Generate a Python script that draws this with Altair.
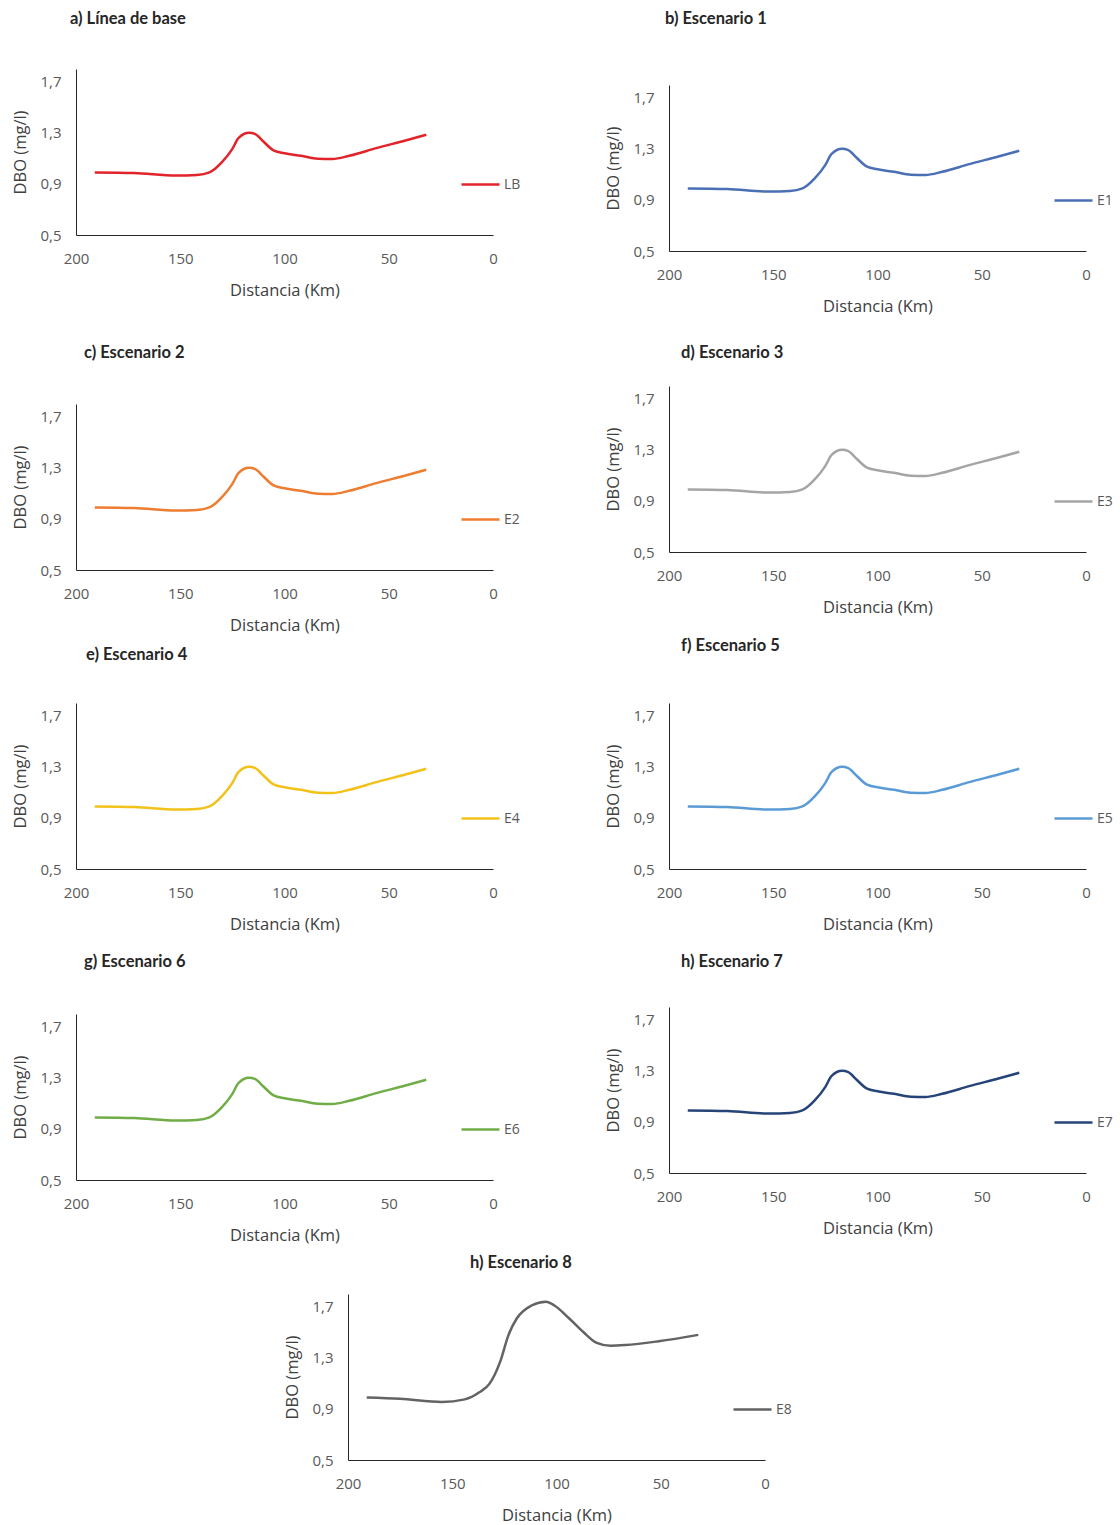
import altair as alt
import pandas as pd

# ---- data ----
X_TICKS = [200, 150, 100, 50, 0]
Y_TICKS = [0.5, 0.9, 1.3, 1.7]

km_base = [191, 172, 152, 142, 136, 130, 125, 122, 117, 114, 110, 105, 100, 92, 84, 77, 69, 56, 42, 32]
dbo_lb = [0.99, 0.985, 0.965, 0.97, 0.99, 1.07, 1.175, 1.26, 1.30, 1.29, 1.23, 1.16, 1.14, 1.12, 1.097, 1.095, 1.12, 1.18, 1.24, 1.285]
dbo_e1 = [0.99, 0.985, 0.965, 0.97, 0.99, 1.07, 1.175, 1.26, 1.30, 1.29, 1.23, 1.16, 1.14, 1.12, 1.097, 1.095, 1.12, 1.18, 1.24, 1.285]
dbo_e2 = [0.99, 0.985, 0.965, 0.97, 0.99, 1.07, 1.175, 1.26, 1.30, 1.29, 1.23, 1.16, 1.14, 1.12, 1.097, 1.095, 1.12, 1.18, 1.24, 1.285]
dbo_e3 = [0.99, 0.985, 0.965, 0.97, 0.99, 1.07, 1.175, 1.26, 1.30, 1.29, 1.23, 1.16, 1.14, 1.12, 1.097, 1.095, 1.12, 1.18, 1.24, 1.285]
dbo_e4 = [0.99, 0.985, 0.965, 0.97, 0.99, 1.07, 1.175, 1.26, 1.30, 1.29, 1.23, 1.16, 1.14, 1.12, 1.097, 1.095, 1.12, 1.18, 1.24, 1.285]
dbo_e5 = [0.99, 0.985, 0.965, 0.97, 0.99, 1.07, 1.175, 1.26, 1.30, 1.29, 1.23, 1.16, 1.14, 1.12, 1.097, 1.095, 1.12, 1.18, 1.24, 1.285]
dbo_e6 = [0.99, 0.985, 0.965, 0.97, 0.99, 1.07, 1.175, 1.26, 1.30, 1.29, 1.23, 1.16, 1.14, 1.12, 1.097, 1.095, 1.12, 1.18, 1.24, 1.285]
dbo_e7 = [0.99, 0.985, 0.965, 0.97, 0.99, 1.07, 1.175, 1.26, 1.30, 1.29, 1.23, 1.16, 1.14, 1.12, 1.097, 1.095, 1.12, 1.18, 1.24, 1.285]

km_e8 = [191, 175, 155, 144, 137, 132, 127, 123, 119, 112, 105, 101, 94, 87, 81, 74, 67, 51, 32]
dbo_e8 = [0.99, 0.98, 0.955, 0.975, 1.03, 1.10, 1.27, 1.48, 1.61, 1.71, 1.74, 1.71, 1.61, 1.50, 1.42, 1.395, 1.40, 1.43, 1.48]

series_names = ["LB", "E1", "E2", "E3", "E4", "E5", "E6", "E7", "E8"]
series_colors = ["#E2242A", "#4A6FB5", "#ED7D31", "#A5A5A5", "#F2C21B", "#5B9BD5", "#70AD47", "#264478", "#636363"]
panel_titles = ["a) Línea de base", "b) Escenario 1", "c) Escenario 2", "d) Escenario 3",
                "e) Escenario 4", "f) Escenario 5", "g) Escenario 6", "h) Escenario 7", "h) Escenario 8"]


def panel(name, color, title, dx, offset, km, vals):
    df = pd.DataFrame({"km": km, "dbo": vals, "serie": name})
    return alt.Chart(df).mark_line(interpolate="monotone", strokeWidth=2.5).encode(
        x=alt.X("km:Q", title="Distancia (Km)",
                scale=alt.Scale(domain=[0, 200], reverse=True, nice=False),
                axis=alt.Axis(values=X_TICKS, ticks=False, grid=False, labelPadding=16,
                              titlePadding=16, labelFlush=False, format="d")),
        y=alt.Y("dbo:Q", title="DBO (mg/l)",
                scale=alt.Scale(domain=[0.5, 1.8], nice=False, zero=False),
                axis=alt.Axis(values=Y_TICKS, ticks=False, grid=False, labelPadding=15,
                              titlePadding=11, labelFlush=False,
                              labelExpr="replace(format(datum.value, '.1f'), '.', ',')")),
        color=alt.Color("serie:N", scale=alt.Scale(domain=[name], range=[color]),
                        legend=alt.Legend(orient="none", legendX=384, legendY=95, title=None,
                                          symbolType="stroke", symbolSize=1444,
                                          symbolStrokeWidth=2.5, labelOffset=3,
                                          labelFontSize=14, labelFont="Open Sans",
                                          labelColor="#595959")),
    ).properties(
        width=417, height=166,
        title=alt.TitleParams(title, anchor="start", frame="group", dx=dx, offset=offset),
    )


def spacer(w, h):
    return alt.Chart(pd.DataFrame({"s": [0]})).mark_point(opacity=0, size=1).encode(
        x=alt.value(0), y=alt.value(0)
    ).properties(width=w, height=h)


vals = [dbo_lb, dbo_e1, dbo_e2, dbo_e3, dbo_e4, dbo_e5, dbo_e6, dbo_e7, dbo_e8]
kms = [km_base] * 8 + [km_e8]
dxs = [-6, -4, 8, 12, 10, 12, 8, 12, 122]
offsets = [42, 58, 43, 25, 40, 49, 44, 37, 23]

panels = [panel(series_names[i], series_colors[i], panel_titles[i], dxs[i], offsets[i], kms[i], vals[i])
          for i in range(9)]

left = alt.vconcat(spacer(1, 1), panels[0], spacer(1, 44), panels[2], spacer(1, 11), panels[4],
                   spacer(1, 19), panels[6], spacing=0).resolve_scale(color="independent")
right = alt.vconcat(spacer(1, 1), panels[1], spacer(1, 28), panels[3], spacer(1, 20), panels[5],
                    spacer(1, 19), panels[7], spacing=0).resolve_scale(color="independent")
top = alt.hconcat(left, right, spacing=84).resolve_scale(color="independent")
bottom = alt.hconcat(spacer(208, 1), panels[8], spacing=0).resolve_scale(color="independent")

chart = alt.vconcat(top, bottom, spacing=10).resolve_scale(color="independent").properties(
    padding={"left": 12, "top": 8, "right": 0, "bottom": 0}
).configure_view(stroke=None).configure_axis(
    domainColor="#262626", labelColor="#595959", titleColor="#404040",
    labelFont="Open Sans", titleFont="Open Sans", labelFontSize=15, titleFontSize=16.5,
    titleFontWeight="normal"
).configure_title(
    font="Lato", fontSize=16.5, fontWeight="bold", color="#262626"
)

chart.save("out.html", embed_options={"renderer": "svg", "actions": False})
